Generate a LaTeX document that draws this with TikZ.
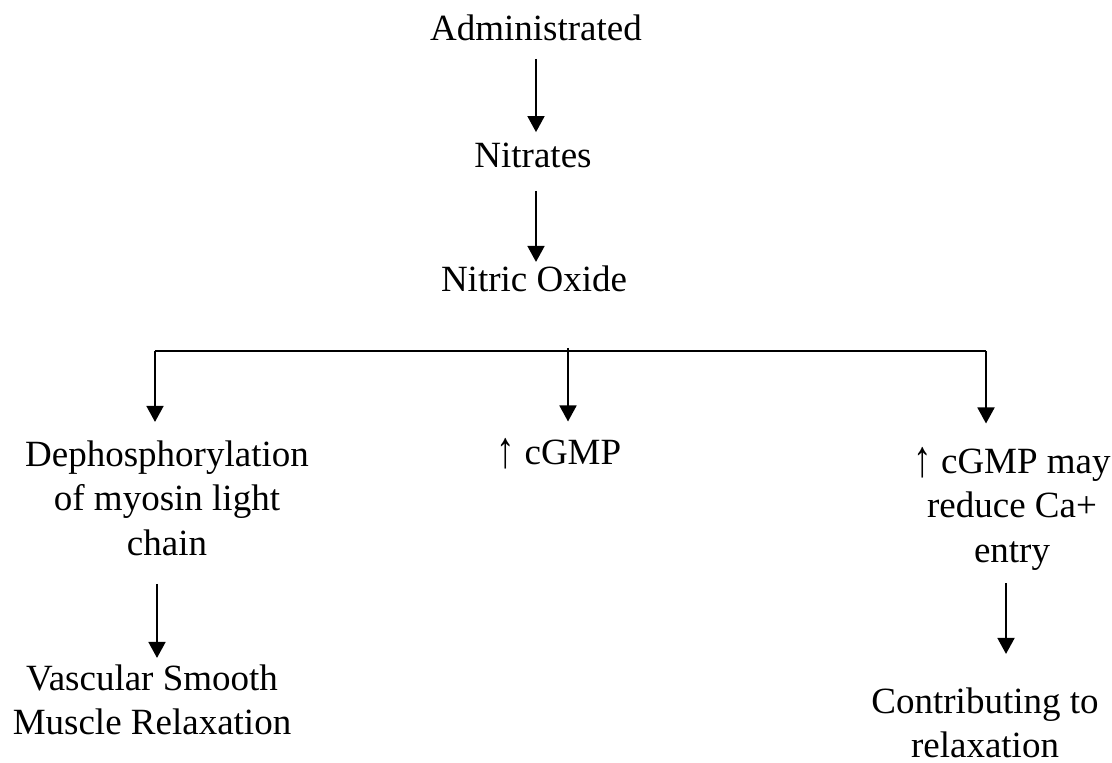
\documentclass[tikz,border=0pt]{standalone}
\usepackage{fontspec}
\setmainfont{Liberation Serif}
\usetikzlibrary{arrows.meta}
\newcommand{\uparr}{\raisebox{-1.5pt}{\scalebox{1}[1.4]{↑}}}

\begin{document}
\begin{tikzpicture}[x=0.5pt,y=-0.5pt]
			\tikzstyle{every node}+=[inner sep=0pt,anchor=base,align=center,font=\fontsize{18.5}{22}\selectfont]
			\tikzstyle{arr}=[black,line width=0.9pt,-{Triangle[length=8pt,width=8.5pt]}]
			\useasboundingbox (0,0) rectangle (1112,763);
			% base of a node = baseline of its last line
			\node (adm) at (536,41) {Administrated};
			\node (nit) at (533,168) {Nitrates};
			\node (no) at (534,292) {Nitric Oxide};
			\node (dep) at (167,555) {Dephosphorylation\\of myosin light\\chain};
			\node (cgmp) at (559,465) {\uparr\ cGMP};
			\node (ca) at (1012,562) {\uparr\ cGMP may\\reduce Ca+\\entry};
			\node (vsm) at (152,734) {Vascular Smooth\\Muscle Relaxation};
			\node (con) at (985,757) {Contributing to\\relaxation};
			\coordinate (bl) at (155,351);
			\coordinate (bm) at (568,348);
			\coordinate (br) at (986,351);
			\draw [arr,shorten <=8.5pt,shorten >=5.5pt] (adm.south) -- (adm.south |- nit.north);
			\draw [arr,shorten <=11pt,shorten >=2pt] (adm.south |- nit.south) -- (adm.south |- no.north);
			\draw [black,line width=0.9pt] (bl) -- (br);
			\draw [arr,shorten >=9.5pt] (bl) -- (bl |- dep.north);
			\draw [arr,shorten >=8.5pt] (bm) -- (bm |- cgmp.north);
			\draw [arr,shorten >=12pt] (br) -- (br |- ca.north);
			\draw [arr,shorten <=14pt,shorten >=3pt] ([xshift=-5pt]dep.south) -- ([xshift=2.5pt]vsm.north);
			\draw [arr,shorten <=6.5pt,shorten >=16.5pt] ([xshift=-3pt]ca.south) -- ([xshift=10.5pt]con.north);
\end{tikzpicture}
\end{document}
